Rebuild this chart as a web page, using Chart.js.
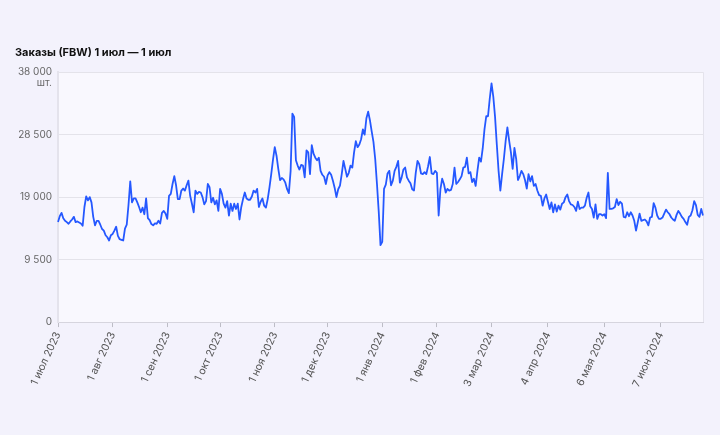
<!DOCTYPE html>
<html>
<head>
<meta charset="utf-8">
<script src="https://cdn.jsdelivr.net/npm/chart.js@4.4.1/dist/chart.umd.min.js"></script>
<style>
  html, body { margin: 0; padding: 0; background: #f3f2fc; }
  #wrap { width: 720px; height: 435px; }
</style>
</head>
<body>
<div id="wrap"><canvas id="orders"></canvas></div>
<script>
// daily orders, 1 Jul 2023 .. 1 Jul 2024
var orderValues = [
  15200,16100,16600,15800,15400,15200,14950,15300,15600,16000,
  15200,15300,15150,15000,14650,17500,19100,18500,19000,18200,
  16000,14700,15400,15400,14800,14150,13900,13200,12900,12400,
  13200,13400,13900,14500,13100,12600,12500,12400,14200,14800,
  17800,21400,18200,18800,18800,18200,17500,16700,17400,16400,
  18800,15800,15500,14900,14700,15000,14950,15400,15000,16600,
  16900,16500,15700,19200,19500,21000,22200,20800,18700,18700,
  20000,20300,19990,20800,21500,19200,18000,16700,20000,19500,
  19800,19700,19000,17900,18400,21000,20500,18200,18900,17900,
  18500,16900,20250,19500,18000,17400,18400,16200,18000,16900,
  18000,17200,18000,15600,17500,18700,19700,18800,18600,18600,
  19100,20000,19700,20250,17500,18300,18800,17700,17400,18700,
  20500,22500,24700,26600,25300,23300,21600,21900,21700,21200,
  20200,19600,23000,31700,31200,24600,23800,23200,23900,23800,
  22000,26100,25800,22500,26900,25600,25000,24600,25000,23000,
  22400,22100,21000,22300,22800,22400,21500,20400,19000,20200,
  20750,22500,24500,23300,22100,22700,23800,23500,25800,27500,
  26600,27000,27800,29300,28500,31000,32000,30700,29000,27400,
  24800,21000,16800,11700,12200,20250,20900,22600,23000,20800,
  21500,23000,23600,24500,21200,22000,23200,23500,22000,21500,
  21100,20200,20000,22700,24500,24000,22600,22500,22800,22500,
  23700,25100,22600,22500,23000,22700,16200,20200,21800,21000,
  19700,20250,20000,20100,21000,23500,21000,21300,21700,22200,
  23500,23600,25000,22600,22800,21300,21800,20700,23000,25000,
  24400,26400,29300,31300,31300,34000,36300,34300,31200,27000,
  23000,20000,22500,24800,27500,29600,27600,25800,23300,26500,
  24800,21600,22200,23000,22500,21600,20300,22500,21400,22200,
  20700,21000,20000,19300,19200,17700,18800,19400,18300,17200,
  18200,16700,17900,16800,17700,17100,18000,18200,19000,19400,
  18400,17900,17800,17500,16900,18300,17200,17400,17400,17700,
  18900,19700,17600,17200,15900,17900,15700,16400,16400,16200,
  16400,15800,22700,17200,17200,17300,17500,18700,17800,18300,
  18000,16000,15900,16700,16100,16700,16200,15400,13900,15200,
  16500,15400,15500,15600,15300,14700,15900,16000,18100,17400,
  16200,15700,15700,15900,16500,17100,16700,16400,15900,15600,
  15400,16300,16900,16500,16000,15700,15200,14800,16000,16200,
  17000,18400,17800,16300,16000,17200,16200
];

var monthNames = ['янв','фев','мар','апр','мая','июн','июл','авг','сен','окт','ноя','дек'];
var tickLabels = [
  '1 июл 2023', '1 авг 2023', '1 сен 2023', '1 окт 2023', '1 ноя 2023', '1 дек 2023',
  '1 янв 2024', '1 фев 2024', '3 мар 2024', '4 апр 2024', '6 мая 2024', '7 июн 2024'
];
var yTicks = [0, 9500, 19000, 28500, 38000];

// one category per day starting 1 Jul 2023
var dayLabels = [];
for (var i = 0; i < orderValues.length; i++) {
  var d = new Date(Date.UTC(2023, 6, 1 + i));
  dayLabels.push(d.getUTCDate() + ' ' + monthNames[d.getUTCMonth()] + ' ' + d.getUTCFullYear());
}

var areaBg = {
  id: 'areaBg',
  beforeDraw: function (chart) {
    var a = chart.chartArea, c = chart.ctx;
    c.save();
    c.fillStyle = '#f9f8fe';
    c.fillRect(a.left, a.top, a.right - a.left, a.bottom - a.top);
    c.strokeStyle = '#e4e3ec';
    c.lineWidth = 1;
    c.beginPath();
    c.moveTo(a.right + 0.5, a.top);
    c.lineTo(a.right + 0.5, a.bottom);
    c.stroke();
    c.restore();
  },
  afterDraw: function (chart) {
    var c = chart.ctx, y = chart.scales.y;
    c.save();
    c.font = '10px Inter';
    c.fillStyle = '#666';
    c.textAlign = 'right';
    c.textBaseline = 'middle';
    c.fillText('шт.', y.right - 6, y.getPixelForValue(38000) + 11);
    c.restore();
  }
};

var orders = document.getElementById('orders');
var ordersChart = new Chart(orders, {
  type: 'line',
  data: {
    labels: dayLabels,
    datasets: [{
      data: orderValues,
      borderColor: '#2558ff',
      borderWidth: 1.8,
      pointRadius: 0,
      tension: 0,
      borderJoinStyle: 'round'
    }]
  },
  options: {
    responsive: true,
    maintainAspectRatio: false,
    animation: false,
    layout: { padding: { left: 15, top: 40, right: 17, bottom: 43 } },
    plugins: {
      legend: { display: false },
      tooltip: { enabled: false },
      title: {
        display: true,
        text: 'Заказы (FBW) 1 июл — 1 июл',
        align: 'start',
        color: '#111',
        font: { family: 'Inter', size: 11, weight: 'bold', lineHeight: 1.2 },
        padding: { top: 6, bottom: 13 }
      }
    },
    scales: {
      x: {
        grid: { drawOnChartArea: false, drawTicks: true, tickLength: 5, color: '#bdbdc6' },
        border: { color: '#d6d5de' },
        ticks: {
          autoSkip: false,
          minRotation: 65,
          maxRotation: 65,
          padding: 3,
          color: '#555',
          font: { family: 'Inter', size: 10.5 },
          callback: function (v, idx) {
            var lbl = dayLabels[idx];
            return tickLabels.indexOf(lbl) >= 0 ? lbl : null;
          }
        }
      },
      y: {
        min: 0,
        max: 38000,
        afterFit: function (s) { s.width = 43; },
        afterBuildTicks: function (s) {
          s.ticks = yTicks.map(function (v) { return { value: v }; });
        },
        grid: { color: '#e4e3ea', drawTicks: false },
        border: { color: '#e4e3ec', width: 2 },
        ticks: {
          padding: 6,
          color: '#666',
          font: { family: 'Inter', size: 10 },
          callback: function (v) {
            return String(v).replace(/\B(?=(\d{3})+(?!\d))/g, ' ');
          }
        }
      }
    }
  },
  plugins: [areaBg]
});
</script>
</body>
</html>
